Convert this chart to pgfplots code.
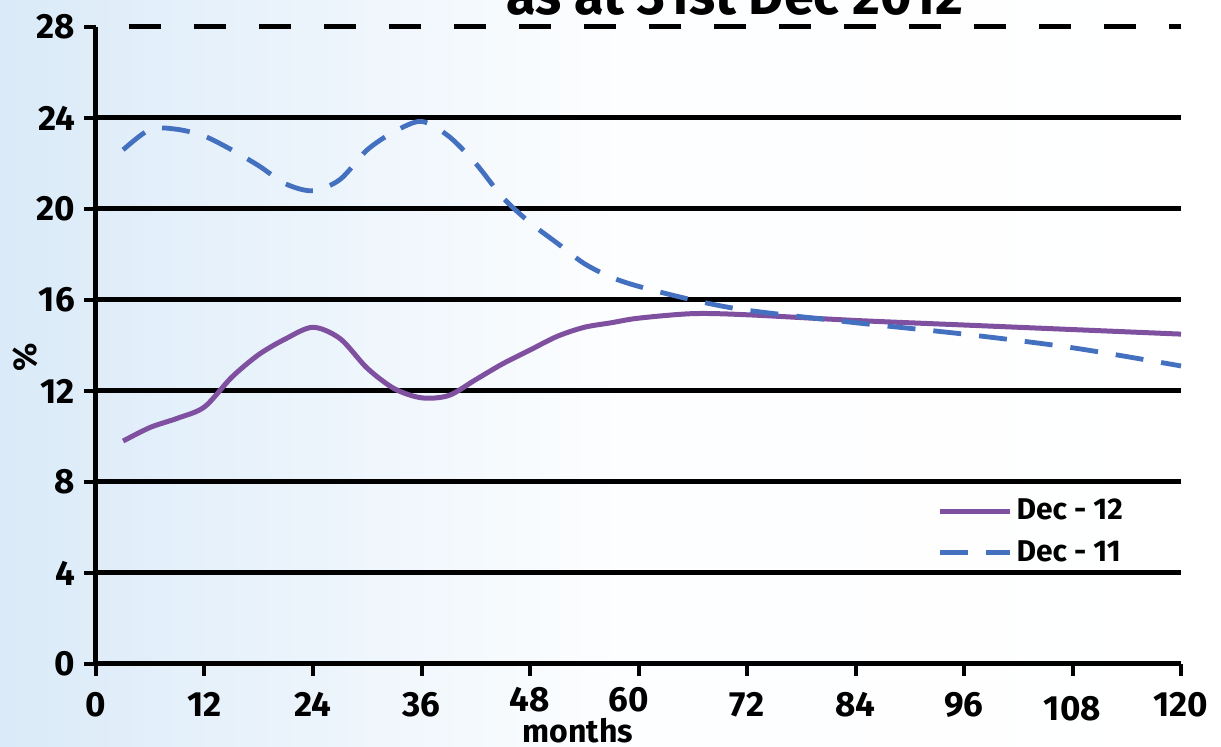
\documentclass[border=0pt]{standalone}
\usepackage{fontspec}
\setmainfont{Fira Sans}
\usepackage{pgfplots}
\pgfplotsset{compat=1.18}
\definecolor{purp}{RGB}{127,80,160}
\definecolor{bl}{RGB}{68,112,192}
\definecolor{bgblue}{RGB}{218,234,248}
\begin{document}
\begin{tikzpicture}
\shade[left color=bgblue, right color=white, middle color=white!93!bgblue] (-48pt,-41.5pt) rectangle (562.5pt,332pt);
\begin{axis}[at={(0,0)}, anchor=south west,
  scale only axis, width=542.5pt, height=318.5pt,
  xmin=0, xmax=120, ymin=0, ymax=28,
  axis x line=bottom, axis y line=left,
  axis line style={-, line width=2.5pt},
  xtick={0,12,...,120}, ytick={0,4,...,24},
  xticklabels={0,12,24,36,\raisebox{2.5pt}[\height][\depth]{48},\hspace*{-10pt}\raisebox{2.5pt}[\height][\depth]{60},72,84,96,\raisebox{-2pt}[\height][\depth]{108},120},
  extra y ticks={28},
  ymajorgrids, grid style={black, line width=2.5pt},
  extra y tick style={ymajorgrids=true, grid style={black, line width=2.5pt, dash pattern=on 16pt off 16.5pt, dash phase=16pt}},
  tick style={black, line width=2pt}, tick align=outside, major tick length=6pt,
  ticklabel style={font=\bfseries\fontsize{17.5}{17.5}\selectfont},
  /pgf/number format/assume math mode=true,
  xticklabel style={yshift=-4.5pt},
  yticklabel style={xshift=-1pt},
  xlabel={months}, ylabel={\%},
  label style={font=\bfseries\fontsize{16}{16}\selectfont},
  ylabel style={at={(rel axis cs:-0.0654,0.482)}, anchor=center, font=\bfseries\fontsize{16.5}{16.5}\selectfont},
  xlabel style={at={(rel axis cs:0.444,0)}, anchor=base, yshift=-39.5pt},
  legend style={draw=none, fill=none, at={(rel axis cs:0.956,0.272)}, anchor=north east,
    font=\bfseries\fontsize{15}{15}\selectfont, row sep=5pt},
  legend cell align=left,
  legend image code/.code={\draw[#1] (0pt,0pt) -- (35pt,0pt);},
  clip=false
]
\addplot[purp, line width=2.5pt, smooth] coordinates {
(3,9.8) (6,10.4) (9,10.8) (12,11.3) (15,12.6) (18,13.6) (21,14.3) (24,14.8)
(27,14.3) (30,13.0) (33,12.1) (36,11.7) (39,11.8) (42,12.5) (45,13.2) (48,13.8)
(51,14.4) (54,14.8) (57,15.0) (60,15.2) (66,15.4) (72,15.35) (84,15.1) (96,14.9)
(108,14.7) (120,14.5)
};
\addlegendentry{Dec - 12}
\addplot[bl, line width=2.4pt, smooth, dash pattern=on 14pt off 9pt] coordinates {
(3,22.6) (6,23.5) (9,23.5) (12,23.2) (15,22.6) (18,21.9) (21,21.1) (24,20.8)
(27,21.3) (30,22.6) (33,23.4) (36,23.85) (39,23.2) (42,22.0) (45,20.5) (48,19.4)
(51,18.5) (54,17.6) (57,17.0) (60,16.6) (66,16.0) (72,15.55) (84,15.0) (96,14.5)
(108,13.9) (120,13.1)
};
\addlegendentry{Dec - 11}
\end{axis}
\node[font=\bfseries\fontsize{27}{27}\selectfont, anchor=base] at (319.5pt,324.5pt) {as at 31st Dec 2012};
\pgfresetboundingbox
\path[use as bounding box] (-48pt,-41.5pt) rectangle (562.5pt,332pt);
\end{tikzpicture}
\end{document}
